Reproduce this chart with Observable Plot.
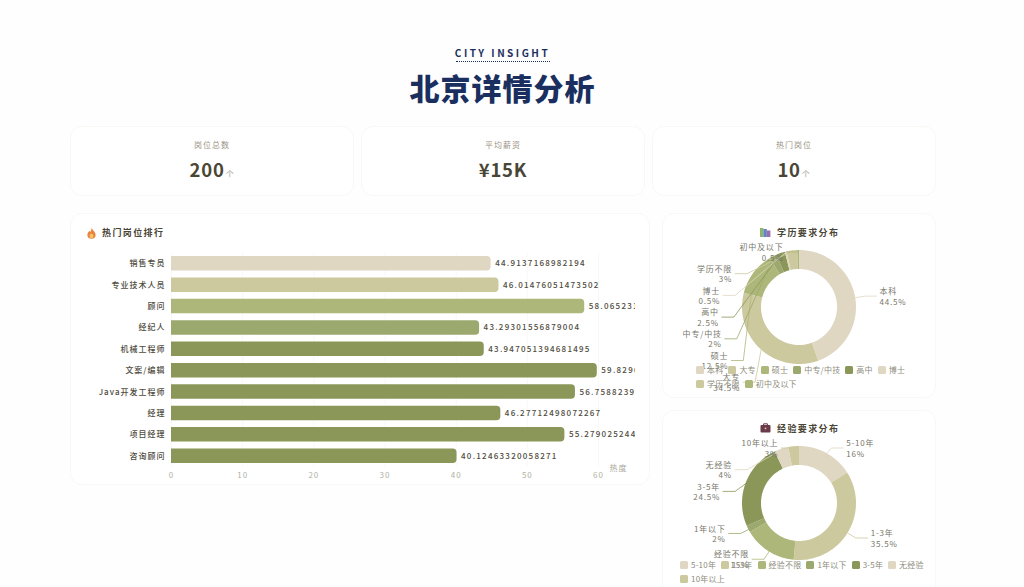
<!DOCTYPE html>
<html lang="zh">
<head>
<meta charset="utf-8">
<script src="https://cdn.jsdelivr.net/npm/d3@7"></script>
<script src="https://cdn.jsdelivr.net/npm/@observablehq/plot@0.6"></script>
<style>
html,body{margin:0;padding:0;width:1024px;height:587px;overflow:hidden;background:#fefefe;font-family:"Noto Sans CJK SC","Noto Sans",sans-serif}
#page{position:relative;width:1024px;height:587px;overflow:hidden}
.abs{position:absolute}
.abs svg{display:block}
.card{position:absolute;box-sizing:border-box;background:#fff;border:1px solid #f8f8f5;border-radius:12px}
.kicker{left:0;width:1005px;top:46px;text-align:center;font-size:10px;line-height:14px;font-weight:700;letter-spacing:2.5px;color:#1b2f5e}
.rule{left:456px;width:94px;top:61px;border-top:1px dotted #1b2f5e}
.headline{left:0;width:1005px;top:66px;text-align:center;font-size:30px;line-height:42px;font-weight:900;letter-spacing:1px;color:#1a2f5f}
.kpi-label{text-align:center;font-size:8px;line-height:12px;letter-spacing:1px;color:#9c9484}
.kpi-value{text-align:center;font-size:18.5px;line-height:26px;font-weight:700;letter-spacing:.8px;color:#4a4636}
.kpi-value span{font-size:8px;font-weight:400;color:#a3a094;margin-left:1px}
.chart-title{font-size:9px;line-height:14px;font-weight:600;letter-spacing:1.4px;color:#4a4636;white-space:nowrap}
.legend{display:flex;flex-wrap:wrap;column-gap:5px;row-gap:3.5px;font-size:8px;line-height:10.5px;letter-spacing:.2px;color:#8d8c7c}
.legend div{display:flex;align-items:center;white-space:nowrap}
.legend i{display:inline-block;width:8px;height:8px;border-radius:1.5px;margin-right:3px}
.plotbox{position:absolute}
.plotbox svg{display:block;background:transparent}
.bars text{letter-spacing:1px}
.bars .vals text{letter-spacing:1.25px}
.pie text{letter-spacing:.8px}
</style>
</head>
<body>
<div id="page"></div>
<script>
const palette = ["#dfd7c2","#cdc99e","#aeb77a","#9ba86e","#8a9759"];

const jobNames = ["销售专员","专业技术人员","顾问","经纪人","机械工程师","文案/编辑","Java开发工程师","经理","项目经理","咨询顾问"];
const jobHeat = [44.9137168982194,46.01476051473502,58.0652317,43.29301556879004,43.947051394681495,59.8296142,56.7588239,46.27712498072267,55.279025244,40.12463320058271];
const jobColors = ["#dfd7c2","#cdc99e","#aeb77a","#9ba86e","#8a9759","#8a9759","#8a9759","#8a9759","#8a9759","#8a9759"];

const eduNames = ["本科","大专","硕士","中专/中技","高中","博士","学历不限","初中及以下"];
const eduShare = [44.5,34.5,12.5,2,2.5,0.5,3,0.5];
const expNames = ["5-10年","1-3年","经验不限","1年以下","3-5年","无经验","10年以上"];
const expShare = [16,35.5,15,2,24.5,4,3];

const kpiLabels = ["岗位总数","平均薪资","热门岗位"];
const kpiValues = ["200","¥15K","10"];
const kpiUnits = ["个","","个"];

const FONT = '"Noto Sans CJK SC","Noto Sans",sans-serif';
const page = document.getElementById("page");
function add(cls, css, html){
  const d = document.createElement("div");
  d.className = cls; d.style.cssText = css; if (html != null) d.innerHTML = html;
  page.appendChild(d); return d;
}

// header
add("abs kicker","","CITY INSIGHT");
add("abs rule","");
add("abs headline","","北京详情分析");

// cards
[[70,126,284,70],[361,126,284,70],[652,126,284,70],[70,213,580,272],[662,213,274,185],[662,410,274,200]]
  .forEach(([l,t,w,h]) => add("card",`left:${l}px;top:${t}px;width:${w}px;height:${h}px`));

// KPI
[70,361,652].forEach((l,i) => {
  add("abs kpi-label",`left:${l}px;width:284px;top:139px`,kpiLabels[i]);
  add("abs kpi-value",`left:${l}px;width:284px;top:156px`,
      kpiValues[i] + (kpiUnits[i] ? `<span>${kpiUnits[i]}</span>` : ""));
});

// chart titles + icons
add("abs chart-title","left:102px;top:226px","热门岗位排行");
add("abs chart-title","left:777px;top:225.5px","学历要求分布");
add("abs chart-title","left:777px;top:421.5px","经验要求分布");
add("abs","left:87px;top:227px;width:9px;height:12px",
 `<svg width="9" height="12" viewBox="0 0 9 12"><path d="M4.6 0.5C5 3 8.6 4.6 8.6 8A4.1 3.8 0 0 1 .4 8C.4 6 1.6 5 2.2 3.8C2.8 4.4 3 4.8 3.2 5.2C4 3.8 4.7 2.2 4.6 .5Z" fill="#e8843c"/><ellipse cx="4.5" cy="9" rx="2" ry="2.2" fill="#f6c26a"/></svg>`);
add("abs","left:760px;top:227px;width:11px;height:11px",
 `<svg width="11" height="11"><rect x="0" y="1" width="3.4" height="9" fill="#8fb56a"/><rect x="3.4" y="2" width="3.4" height="8" fill="#5f86c4"/><rect x="6.8" y="3.5" width="3.6" height="6.5" fill="#9a6fae"/></svg>`);
add("abs","left:760px;top:423px;width:11px;height:10px",
 `<svg width="11" height="10"><path d="M3.6 2V.8H7.4V2" fill="none" stroke="#6b3a4a"/><rect x=".5" y="2" width="10" height="7.6" rx="1" fill="#6b3a4a"/><rect x="4.7" y="4.6" width="1.6" height="1.6" fill="#e6c9a8"/></svg>`);

// bar chart
const jobRows = jobNames.map((name,i) => ({name, value: jobHeat[i]}));
const barPlot = Plot.plot({
  className:"bars",
  width:565, height:272, marginLeft:101, marginRight:37, marginTop:39.6, marginBottom:18.6,
  style:{fontFamily:FONT, fontSize:"8px", background:"transparent", overflow:"hidden"},
  x:{domain:[0,60], ticks:[0,10,20,30,40,50,60], label:null},
  y:{domain:jobNames, paddingInner:.32, paddingOuter:.16, round:false, label:null},
  color:{type:"ordinal", domain:jobNames, range:jobColors},
  marks:[
    Plot.gridX({ticks:[0,10,20,30,40,50,60], stroke:"#f8f8f4", strokeOpacity:1}),
    Plot.barX(jobRows,{x:"value", y:"name", fill:"name", rx2:4}),
    Plot.axisX({ticks:[0,10,20,30,40,50,60], tickSize:0, tickPadding:5, label:null, fill:"#b1b0a4"}),
    Plot.axisY({tickSize:0, tickPadding:6, label:null, fill:"#4f4c3e", fontWeight:500}),
    Plot.text(jobRows,{x:"value", y:"name", text:d => String(d.value), textAnchor:"start", dx:4, fill:"#4f4c3e", fontWeight:500, className:"vals"}),
    Plot.text(["热度"],{frameAnchor:"bottom-right", dx:29, dy:4, fill:"#aba99d"})
  ]
});
add("plotbox","left:70px;top:213px").appendChild(barPlot);

// doughnut geometry derived from the shares, ECharts-style label layout
const R = 57, r0 = 38, LEN = 9, LEN2 = 15, STEP = 21.7, TOP = -55.5;
function donutData(names, shares){
  const total = d3.sum(shares);
  let acc = 0;
  const slices = names.map((name,i) => {
    const a0 = acc/total*2*Math.PI; acc += shares[i];
    const a1 = acc/total*2*Math.PI;
    return {name, share:shares[i], a0, a1, mid:(a0+a1)/2};
  });
  const ring = slices.flatMap(s => {
    const n = Math.max(2, Math.ceil((s.a1-s.a0)/0.03));
    return d3.range(n+1).map(k => {
      const a = s.a0 + (s.a1-s.a0)*k/n;
      return {name:s.name, x1:r0*Math.sin(a), y1:-r0*Math.cos(a), x2:R*Math.sin(a), y2:-R*Math.cos(a)};
    });
  });
  const items = slices.map(s => {
    const dir = Math.sin(s.mid) >= 0 ? 1 : -1;
    const ax = (R+LEN)*Math.sin(s.mid), ay = -(R+LEN)*Math.cos(s.mid);
    return {...s, dir, ax, ly:ay, px:R*Math.sin(s.mid), py:-R*Math.cos(s.mid)};
  });
  [1,-1].forEach(dir => {
    const side = items.filter(d => d.dir === dir).sort((a,b) => a.ly-b.ly);
    let prev = TOP - STEP;
    side.forEach(d => { d.ly = Math.max(d.ly, prev+STEP); prev = d.ly; });
    [side.filter(d => d.ly <= 0), side.filter(d => d.ly > 0)].forEach(semi => {
      if (!semi.length) return;
      const far = semi.reduce((m,d) => Math.abs(d.ly) >= Math.abs(m.ly) ? d : m);
      const rA = R+LEN;
      const rB = Math.abs(far.ax) < rA ? Math.abs(far.ly)/Math.sqrt(1-far.ax*far.ax/(rA*rA)) : rA;
      semi.forEach(d => {
        const q = 1 - d.ly*d.ly/(rB*rB);
        d.dx = Math.sqrt(Math.max(0,q))*rA*dir;
      });
    });
  });
  const leaders = items.flatMap(d => [
    {name:d.name, x:d.px, y:d.py},
    {name:d.name, x:d.dx, y:d.ly},
    {name:d.name, x:d.dx+d.dir*(LEN2-3), y:d.ly}
  ]);
  const labels = items.map(d => ({
    name:d.name, x:d.dx+d.dir*LEN2, y:d.ly, dir:d.dir, text:`${d.name}\n${d.share}%`
  }));
  return {ring, leaders, labels};
}
function donut(names, shares, colors){
  const {ring, leaders, labels} = donutData(names, shares);
  const common = {fontSize:8};
  return Plot.plot({
    className:"pie",
    width:274, height:186, margin:0,
    style:{fontFamily:FONT, fontSize:"8px", background:"transparent", overflow:"hidden"},
    x:{domain:[-137,137], axis:null},
    y:{domain:[-93,93], axis:null, reverse:true},
    color:{type:"ordinal", domain:names, range:colors},
    marks:[
      Plot.area(ring,{x1:"x1", y1:"y1", x2:"x2", y2:"y2", z:"name", fill:"name"}),
      Plot.line(leaders,{x:"x", y:"y", z:"name", stroke:"name", strokeWidth:.8}),
      Plot.text(labels.filter(d => d.dir>0),{x:"x", y:"y", text:"text", textAnchor:"start", lineHeight:1.3, fill:"#77766a", ...common}),
      Plot.text(labels.filter(d => d.dir<0),{x:"x", y:"y", text:"text", textAnchor:"end", lineHeight:1.3, fill:"#77766a", ...common})
    ]
  });
}
const cycle = names => names.map((_,i) => palette[i % palette.length]);
add("plotbox","left:662px;top:213.5px").appendChild(donut(eduNames, eduShare, cycle(eduNames)));
add("plotbox","left:662px;top:410px").appendChild(donut(expNames, expShare, cycle(expNames)));

// legends
function legend(names, css){
  const colors = cycle(names);
  add("abs legend", css, names.map((n,i) => `<div><i style="background:${colors[i]}"></i>${n}</div>`).join(""));
}
legend(eduNames,"left:696px;top:365px;width:214px");
legend(expNames,"left:680px;top:560px;width:246px");
</script>
</body>
</html>
